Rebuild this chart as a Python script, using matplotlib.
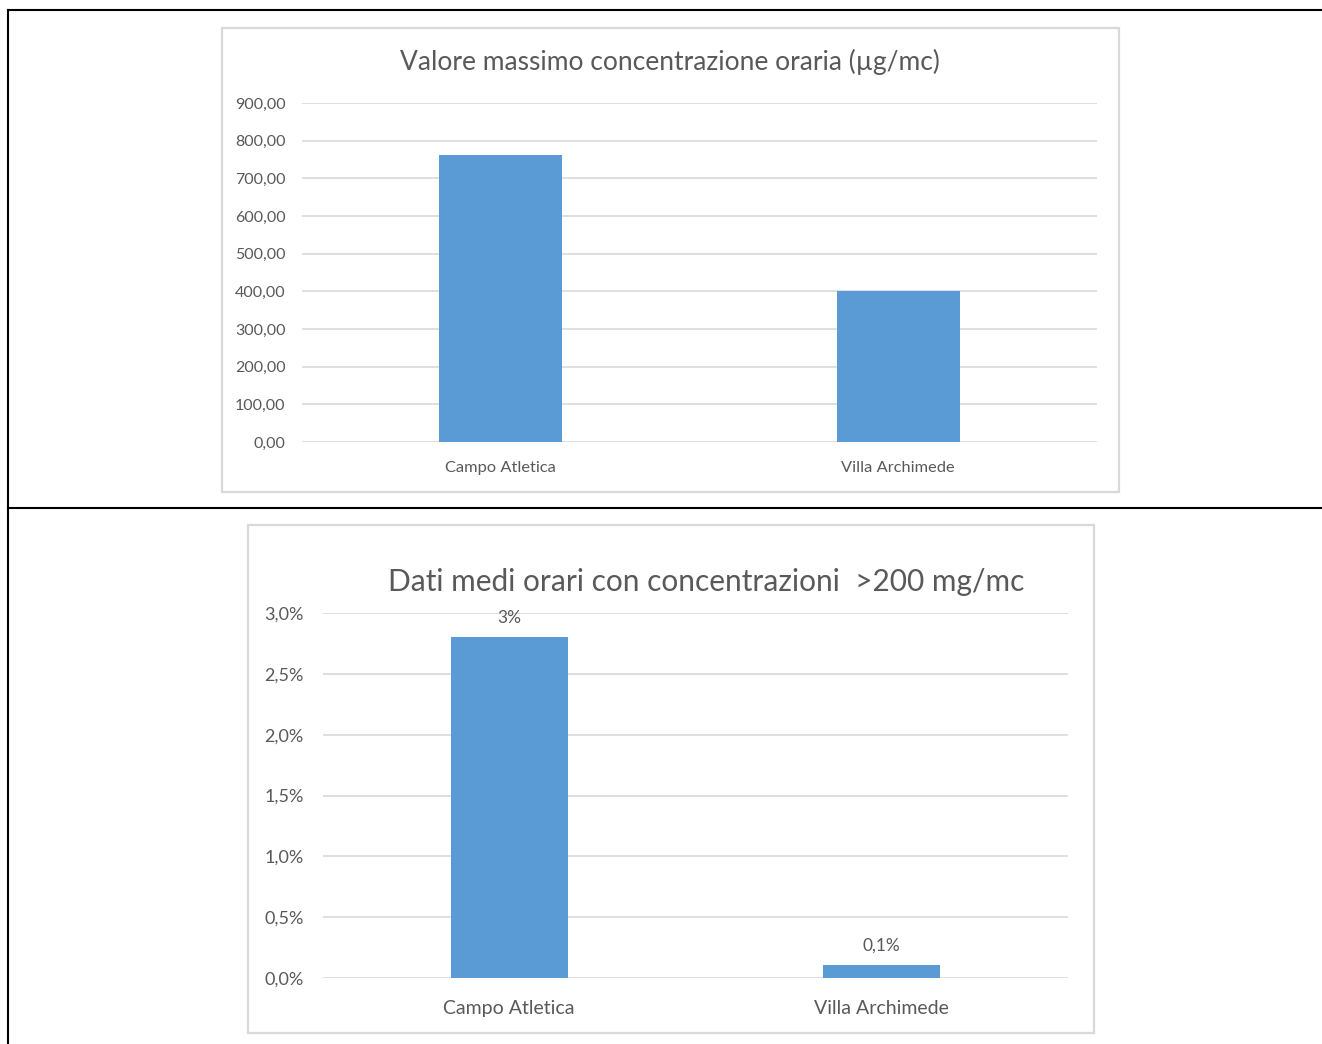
import matplotlib
matplotlib.use("Agg")
import matplotlib.pyplot as plt
from matplotlib.patches import Rectangle
from matplotlib.lines import Line2D
from matplotlib.ticker import FuncFormatter, MultipleLocator

# data
stations = ["Campo Atletica", "Villa Archimede"]
max_hourly = [763, 400]
pct_over_200 = [2.8, 0.11]
pct_labels = ["3%", "0,1%"]

title_top = "Valore massimo concentrazione oraria (\u00b5g/mc)"
title_bottom = "Dati medi orari con concentrazioni  >200 mg/mc"

W, H = 1322, 1044
BAR = "#5b9bd5"
GRID = "#d9d9d9"
TXT = "#595959"
plt.rcParams["font.family"] = ["Lato", "DejaVu Sans"]

fig = plt.figure(figsize=(W / 100, H / 100), dpi=100)


def px_axes(x0, y0, x1, y1):
    ax = fig.add_axes([x0 / W, 1 - y1 / H, (x1 - x0) / W, (y1 - y0) / H])
    ax.set_zorder(5)
    return ax


def box(x0, y0, x1, y1):
    fig.patches.append(Rectangle((x0 / W, 1 - y1 / H), (x1 - x0) / W, (y1 - y0) / H,
                                 transform=fig.transFigure, facecolor="white",
                                 edgecolor=GRID, linewidth=1.6, zorder=0))


# table borders
for xs, ys in [([8, W], [10, 10]), ([8, W], [508, 508]), ([8, 8], [10, H])]:
    fig.lines.append(Line2D([x / W for x in xs], [1 - y / H for y in ys],
                            transform=fig.transFigure, color="black", linewidth=1.5))


def style(ax, ymax, step, fmt, ytick_fs, xtick_fs, ypad, xpad):
    ax.set_xlim(-0.5, 1.5)
    ax.set_ylim(0, ymax)
    ax.yaxis.set_major_locator(MultipleLocator(step))
    ax.yaxis.set_major_formatter(FuncFormatter(fmt))
    ax.grid(axis="y", color=GRID, linewidth=1.2)
    ax.set_axisbelow(True)
    for s in ax.spines.values():
        s.set_visible(False)
    ax.tick_params(length=0, colors=TXT)
    ax.tick_params(axis="y", pad=ypad, labelsize=ytick_fs)
    ax.tick_params(axis="x", pad=xpad, labelsize=xtick_fs)
    ax.set_facecolor("none")


# top chart
box(222, 28, 1119, 492)
ax1 = px_axes(302, 103, 1097, 442)
ax1.bar(range(len(stations)), max_hourly, width=0.31, color=BAR, zorder=2)
ax1.set_xticks(range(len(stations)), stations)
style(ax1, 900, 100, lambda v, p: f"{v:.2f}".replace(".", ","), 11.5, 11.8, 12, 14)
fig.text(670 / W, 1 - 62 / H, title_top, ha="center", va="center",
         fontsize=19, color=TXT)

# bottom chart
box(248, 525, 1094, 1033)
ax2 = px_axes(323, 613, 1068, 978)
bars = ax2.bar(range(len(stations)), pct_over_200, width=0.314, color=BAR, zorder=2)
ax2.set_xticks(range(len(stations)), stations)
style(ax2, 3.0, 0.5, lambda v, p: f"{v:.1f}%".replace(".", ","), 13, 14, 14, 16)
ax2.bar_label(bars, labels=pct_labels, padding=8, fontsize=12.5, color=TXT)
fig.text(706 / W, 1 - 582 / H, title_bottom, ha="center", va="center",
         fontsize=21.5, color=TXT)

fig.savefig("out.png", dpi=100, facecolor="white")
